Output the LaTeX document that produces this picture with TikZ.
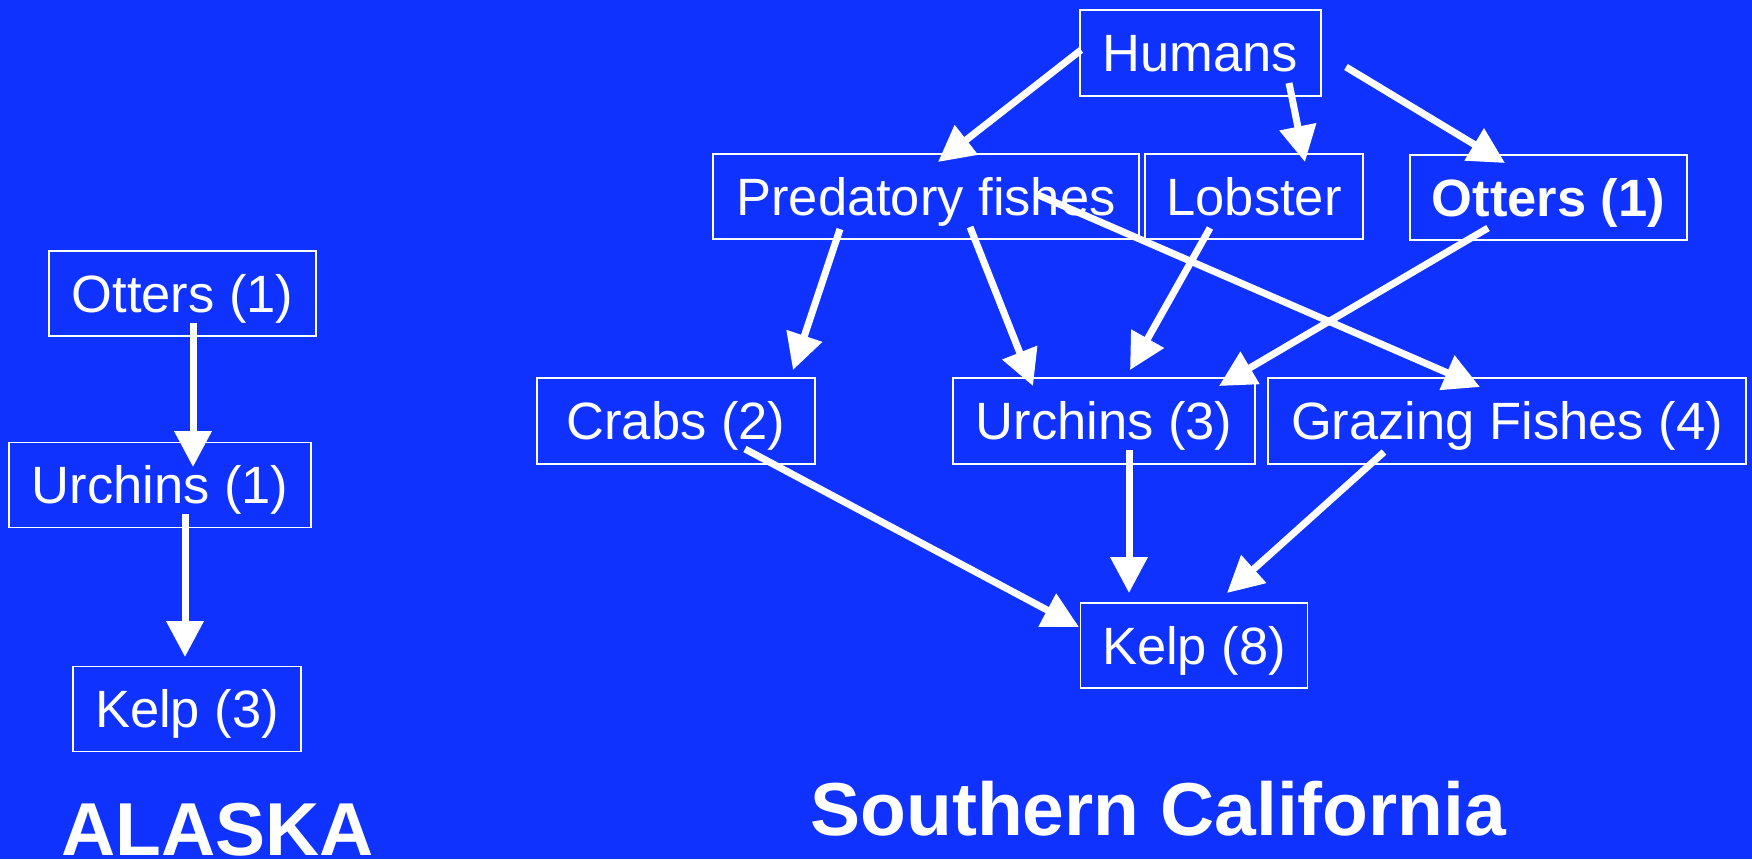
\documentclass[tikz,border=0pt]{standalone}
\usepackage{fontspec}
\setmainfont{Liberation Sans}
\usetikzlibrary{arrows.meta}
\definecolor{bgblue}{RGB}{15,50,255}
\begin{document}
\begin{tikzpicture}[x=0.5pt,y=-0.5pt,
  box/.style={draw=white, line width=0.8pt, text=white, inner sep=0pt,
    text height=18.8pt, text depth=0pt, font=\fontsize{26.25}{30}\selectfont},
  arr/.style={draw=white, line width=3.5pt,
    -{Triangle[length=18pt,width=18pt]}, fill=white},
  ttl/.style={text=white, inner sep=0pt, anchor=base west,
    font=\fontsize{37.5}{42}\selectfont\bfseries}]
\fill[bgblue] (0,0) rectangle (1752,859);
\useasboundingbox (0,0) rectangle (1752,859);
% Alaska
\node[box, minimum width=133.5pt, minimum height=42.5pt] (aOtt) at (182.5,293.5) {Otters (1)};
\node[box, minimum width=151pt, minimum height=42.5pt] (aUrc) at (160,485) {Urchins (1)};
\node[box, minimum width=114pt, minimum height=42.5pt] (aKelp) at (187,709) {Kelp (3)};
\node[ttl] (aTitle) at (61,855) {ALASKA};
% Southern California
\node[box, minimum width=120.5pt, minimum height=43pt] (hum) at (1200.5,53) {Humans};
\node[box, minimum width=213pt, minimum height=42.5pt] (pred) at (926,196.5) {Predatory fishes};
\node[box, minimum width=109pt, minimum height=42.5pt] (lob) at (1254,196.5) {Lobster};
\node[box, minimum width=138.5pt, minimum height=42.5pt, font=\fontsize{26.25}{30}\selectfont\bfseries] (sOtt) at (1548.5,197.5) {Otters (1)};
\node[box, minimum width=139pt, minimum height=43pt] (crab) at (676,421) {Crabs (2)\hspace{9pt}};
\node[box, minimum width=151pt, minimum height=43pt] (surc) at (1104,421) {Urchins (3)};
\node[box, minimum width=239pt, minimum height=43pt] (graz) at (1507,421) {Grazing Fishes (4)};
\node[box, minimum width=113.5pt, minimum height=42.5pt] (skelp) at (1194,645.5) {Kelp (8)};
\node[ttl] (sTitle) at (810,835) {Southern California};
% Alaska arrows
\draw[arr] ([shift={(10.5,29.5)}]aOtt.center) -- ([shift={(33,-18)}]aUrc.center);
\draw[arr] ([shift={(25,29)}]aUrc.center) -- ([shift={(-2,-52)}]aKelp.center);
% Southern California arrows
\draw[arr] ([shift={(-119.5,-3)}]hum.center) -- ([shift={(12,-34.5)}]pred.center);
\draw[arr] ([shift={(88.5,30)}]hum.center) -- ([shift={(51,-34.5)}]lob.center);
\draw[arr] ([shift={(145.5,14)}]hum.center) -- ([shift={(-43.5,-34.5)}]sOtt.center);
\draw[arr] ([shift={(-86,32.5)}]pred.center) -- ([shift={(117,-51)}]crab.center);
\draw[arr] ([shift={(44,30.5)}]pred.center) -- ([shift={(-71,-35)}]surc.center);
\draw[arr] ([shift={(110,-2.5)}]pred.center) -- ([shift={(-27,-34)}]graz.center);
\draw[arr] ([shift={(-44,31.5)}]lob.center) -- ([shift={(26,-51)}]surc.center);
\draw[arr] ([shift={(-60.5,30.5)}]sOtt.center) -- ([shift={(115,-35)}]surc.center);
\draw[arr] ([shift={(69,28)}]crab.center) -- ([shift={(-115,-18.5)}]skelp.center);
\draw[arr] ([shift={(25,29)}]surc.center) -- ([shift={(-65,-52.5)}]skelp.center);
\draw[arr] ([shift={(-123,31)}]graz.center) -- ([shift={(33,-52.5)}]skelp.center);
\end{tikzpicture}
\end{document}
